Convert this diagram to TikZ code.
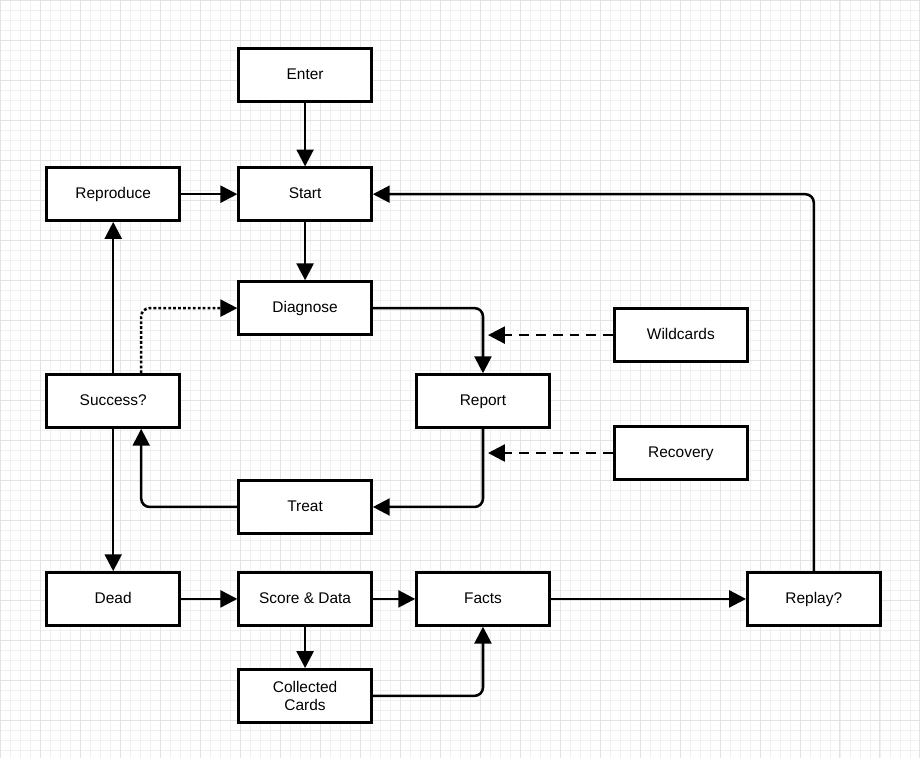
\documentclass[tikz,border=0pt]{standalone}
\usepackage{fontspec}
\setmainfont{Liberation Sans}
\usepackage{tikz}
\usetikzlibrary{arrows.meta}

\begin{document}
\begin{tikzpicture}[x=0.025cm,y=-0.025cm,
    box/.style={draw,line width=1.8pt,fill=white,minimum width=3.325cm,minimum height=1.325cm,align=center,text height=8pt,text depth=2pt,font=\fontsize{11}{13}\selectfont},
    flow/.style={line width=1.8pt,-{Triangle[length=12pt,width=12pt]},rounded corners=6pt},
    dashy/.style={dash pattern=on 7pt off 5pt},
    dotty/.style={dash pattern=on 2pt off 1.5pt}]

    % background grid
    \fill[white] (0,0) rectangle (920,758);
    \foreach \g in {0,10,...,920} \draw[black!6,line width=0.3pt] (\g,0) -- (\g,758);
    \foreach \g in {0,10,...,750} \draw[black!6,line width=0.3pt] (0,\g) -- (920,\g);
    \foreach \g in {0,40,...,920} \draw[black!11,line width=0.4pt] (\g,0) -- (\g,758);
    \foreach \g in {0,40,...,750} \draw[black!11,line width=0.4pt] (0,\g) -- (920,\g);
    \useasboundingbox (0,0) rectangle (920,758);

    \node[box] (enter)     at (305, 75)  {Enter};
    \node[box] (start)     at (305, 194) {Start};
    \node[box] (reproduce) at (113, 194) {Reproduce};
    \node[box] (diagnose)  at (305, 308) {Diagnose};
    \node[box] (success)   at (113, 401) {Success?};
    \node[box] (report)    at (483, 401) {Report};
    \node[box] (wildcards) at (681, 335) {Wildcards};
    \node[box] (recovery)  at (681, 453) {Recovery};
    \node[box] (treat)     at (305, 507) {Treat};
    \node[box] (dead)      at (113, 599) {Dead};
    \node[box] (score)     at (305, 599) {Score \& Data};
    \node[box] (facts)     at (483, 599) {Facts};
    \node[box] (replay)    at (814, 599) {Replay?};
    \node[box,text height=,text depth=] (cards) at (305, 696) {Collected\\Cards};

    \coordinate (w) at (488, 335);
    \coordinate (r) at (488, 453);

    \draw[flow] (enter) -- (start);
    \draw[flow] (start) -- (diagnose);
    \draw[flow] (reproduce) -- (start);
    \draw[flow] (replay.north) |- (start.east);
    \draw[flow] (success.north) -- (reproduce.south);
    \draw[flow,dotty] ([xshift=0.7cm]success.north) |- (diagnose.west);
    \draw[flow] (diagnose.east) -| (report.north);
    \draw[flow,dashy] (wildcards.west) -- (w);
    \draw[flow] (report.south) |- (treat.east);
    \draw[flow,dashy] (recovery.west) -- (r);
    \draw[flow] (treat.west) -| ([xshift=0.7cm]success.south);
    \draw[flow] (success.south) -- (dead.north);
    \draw[flow] (dead) -- (score);
    \draw[flow] (score) -- (facts);
    \draw[flow] (facts) -- (replay);
    \draw[flow] (score) -- (cards);
    \draw[flow] (cards.east) -| (facts.south);
\end{tikzpicture}
\end{document}
